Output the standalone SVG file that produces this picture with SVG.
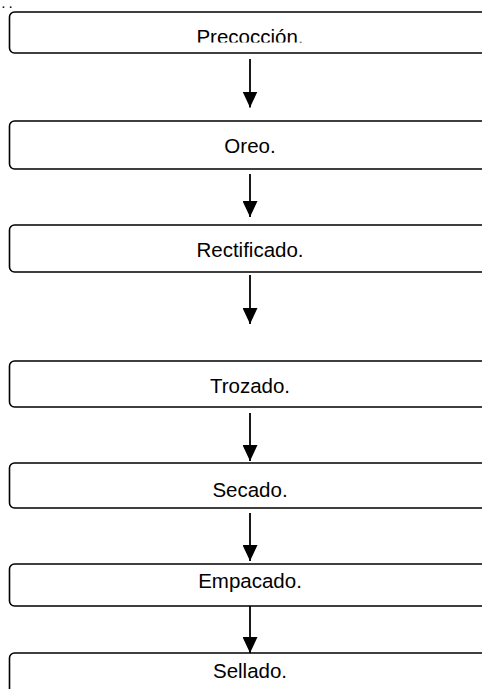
<svg xmlns="http://www.w3.org/2000/svg" width="482" height="689" viewBox="0 0 482 689">
<style>
.box{fill:#fff;stroke:#000;stroke-width:1.6}
.lbl{font-family:"Liberation Sans",Arial,sans-serif;font-size:20.5px;fill:#000;text-anchor:middle}
.conn{stroke:#000;stroke-width:1.8;fill:none}
</style>
<defs>
<marker id="ah" markerUnits="userSpaceOnUse" markerWidth="16" markerHeight="15" refX="16" refY="7.5" orient="auto">
<path d="M0,0 L16,7.5 L0,15 z" fill="#000"/>
</marker>
<clipPath id="clip1"><rect x="0" y="0" width="482" height="42.5"/></clipPath>
</defs>
<rect width="482" height="689" fill="#fff"/>
<text x="2" y="8" style="font-family:'Liberation Sans',Arial,sans-serif;font-size:10px;font-weight:bold;letter-spacing:4.5px;fill:#000">..</text>
<g id="n1"><rect class="box" x="9.5" y="12" width="490" height="41" rx="5"/><text class="lbl" x="250" y="43.5" clip-path="url(#clip1)">Precocción.</text></g>
<g id="n2"><rect class="box" x="9.5" y="121" width="490" height="48" rx="5"/><text class="lbl" x="250" y="153">Oreo.</text></g>
<g id="n3"><rect class="box" x="9.5" y="225" width="490" height="47" rx="5"/><text class="lbl" x="250" y="257">Rectificado.</text></g>
<g id="n4"><rect class="box" x="9.5" y="361" width="490" height="46" rx="5"/><text class="lbl" x="250" y="392.5">Trozado.</text></g>
<g id="n5"><rect class="box" x="9.5" y="463" width="490" height="45" rx="5"/><text class="lbl" x="250" y="497">Secado.</text></g>
<g id="n6"><rect class="box" x="9.5" y="564" width="490" height="42" rx="5"/><text class="lbl" x="250" y="588">Empacado.</text></g>
<g id="n7"><rect class="box" x="9.5" y="653" width="490" height="60" rx="5"/><text class="lbl" x="250" y="678">Sellado.</text></g>
<g id="connectors">
<line class="conn" x1="250" y1="59" x2="250" y2="107.5" marker-end="url(#ah)"/>
<line class="conn" x1="250" y1="174" x2="250" y2="217" marker-end="url(#ah)"/>
<line class="conn" x1="250" y1="275" x2="250" y2="324" marker-end="url(#ah)"/>
<line class="conn" x1="250" y1="413" x2="250" y2="461" marker-end="url(#ah)"/>
<line class="conn" x1="250" y1="513" x2="250" y2="561" marker-end="url(#ah)"/>
<line class="conn" x1="250" y1="606" x2="250" y2="653" marker-end="url(#ah)"/>
</g>
</svg>
